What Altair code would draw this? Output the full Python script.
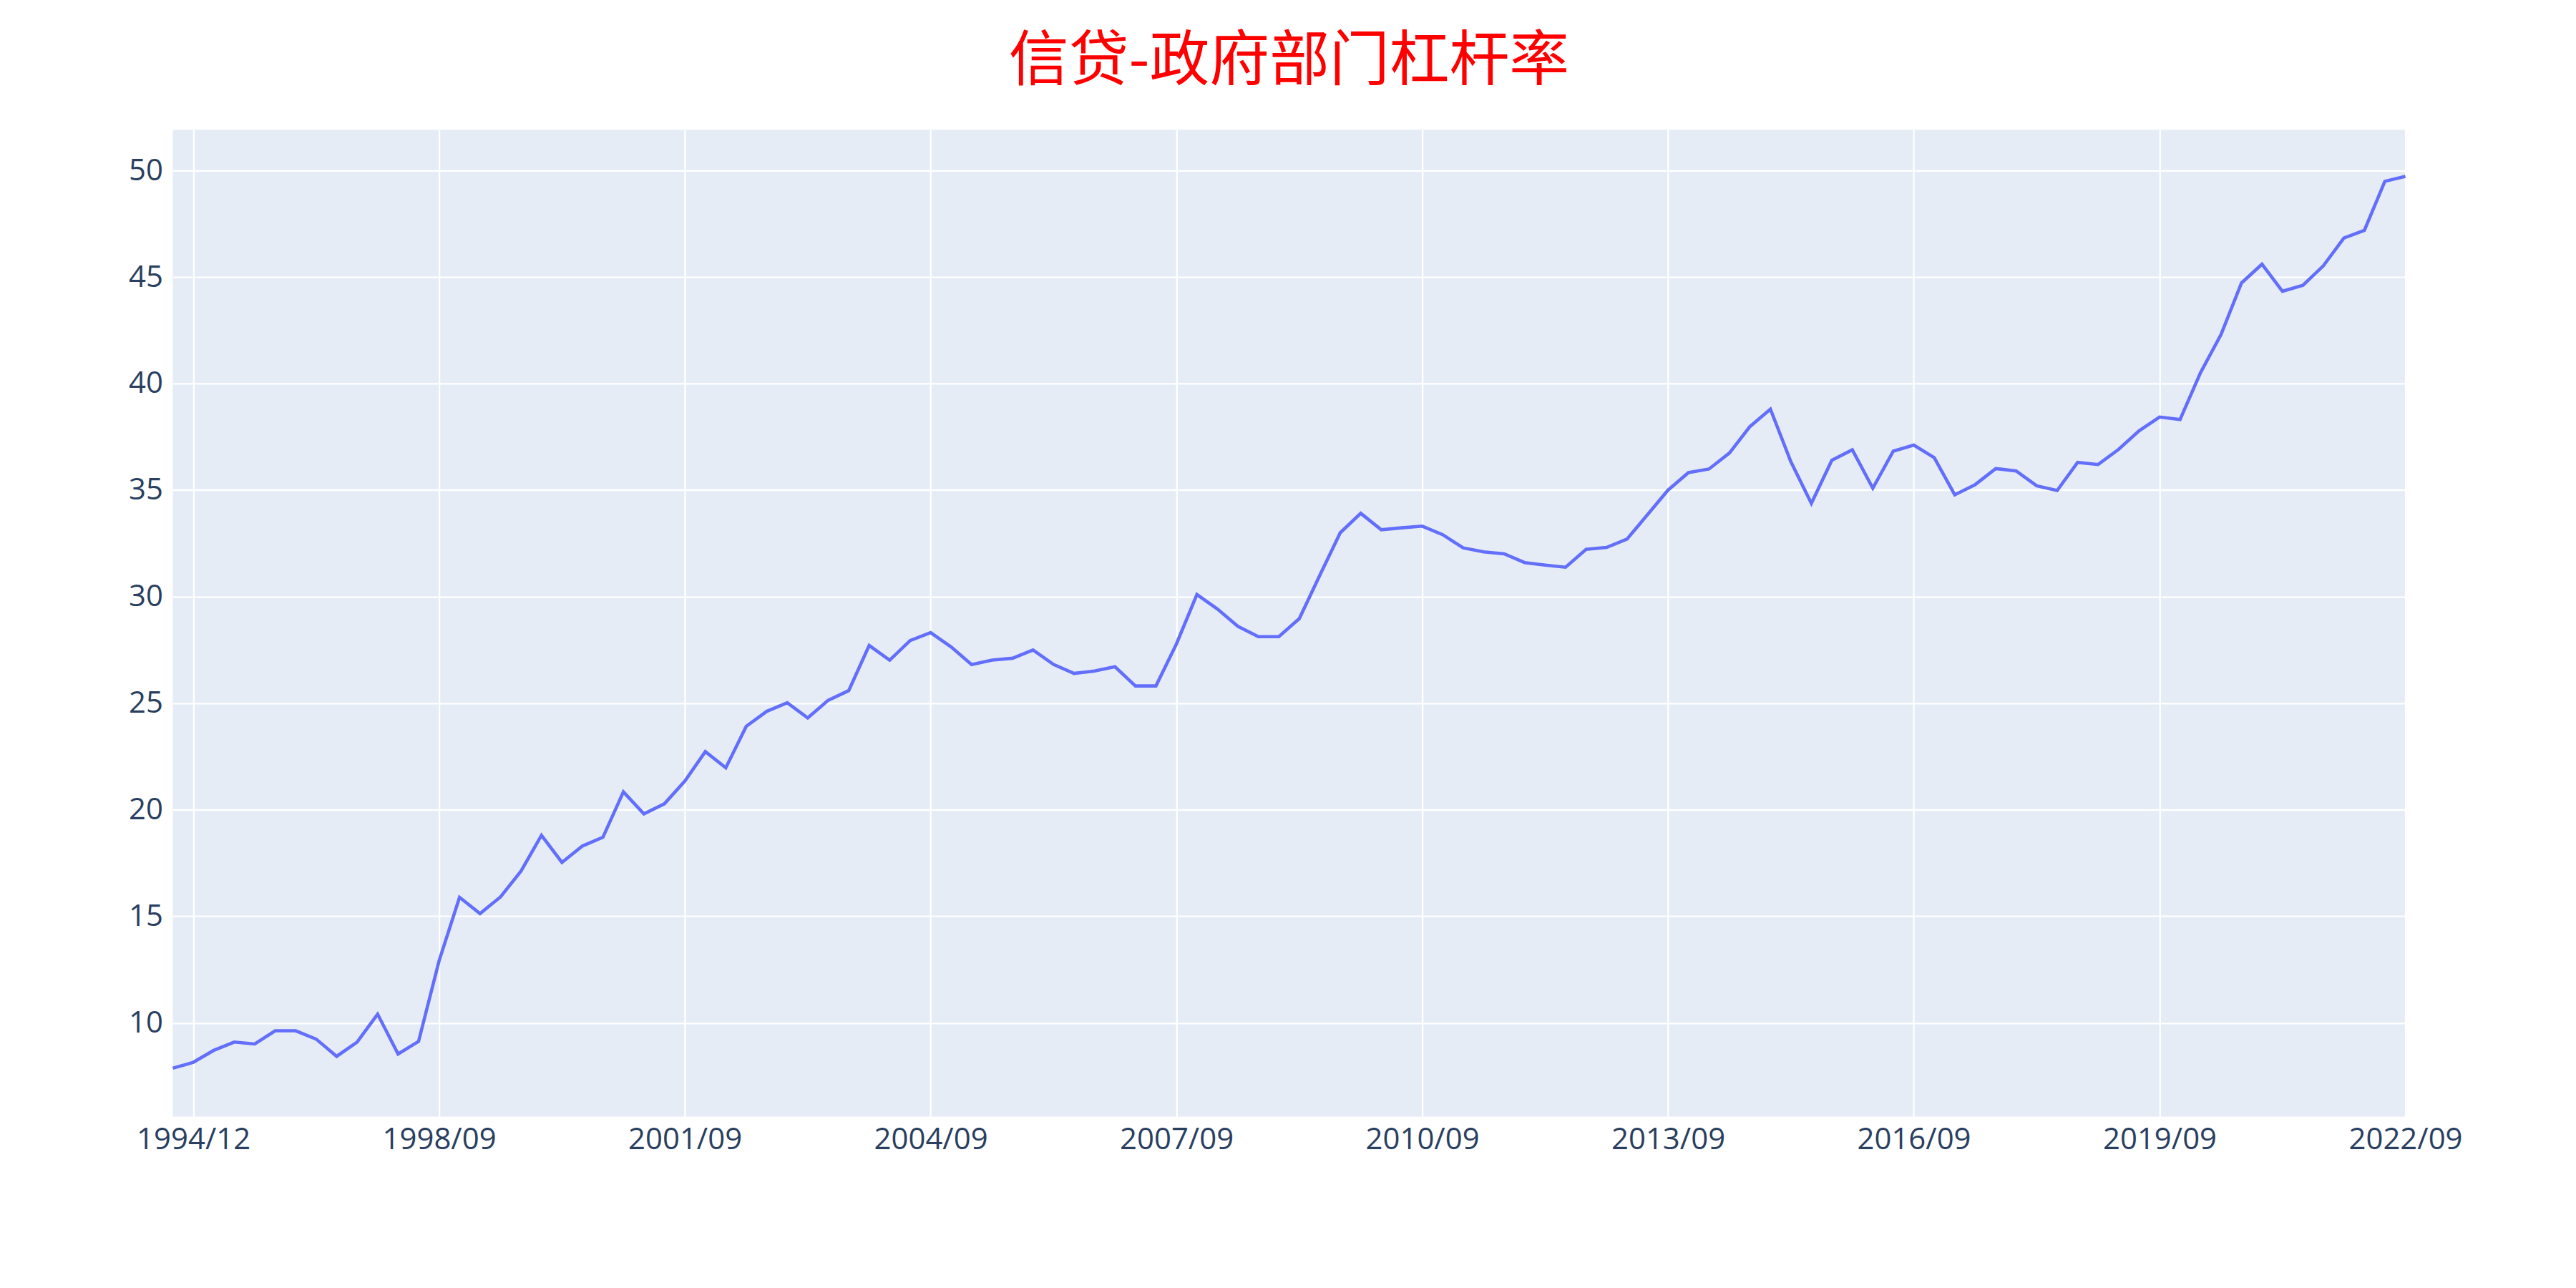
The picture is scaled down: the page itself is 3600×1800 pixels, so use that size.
import altair as alt
import pandas as pd

dates = ["1994/09", "1994/12",
         "1995/06", "1995/12", "1996/03", "1996/06", "1996/09", "1996/12",
         "1997/03", "1997/06", "1997/09", "1997/12", "1998/06"]
for y in range(1998, 2023):
    for m in ["03", "06", "09", "12"]:
        d = f"{y}/{m}"
        if (y == 1998 and m in ("03", "06")) or (y == 2022 and m == "12"):
            continue
        dates.append(d)

values = [7.87, 8.15, 8.71, 9.10, 9.01, 9.63, 9.63, 9.24, 8.43, 9.10, 10.41, 8.54, 9.13,
          12.91, 15.89, 15.13, 15.91, 17.12, 18.80, 17.53, 18.30, 18.71,
          20.84, 19.81, 20.28, 21.35, 22.73, 21.97, 23.92, 24.62, 25.02,
          24.31, 25.14, 25.59, 27.71, 27.02, 27.94, 28.31, 27.64, 26.81,
          27.02, 27.11, 27.50, 26.82, 26.40, 26.51, 26.71, 25.81, 25.81,
          27.78, 30.10, 29.42, 28.61, 28.12, 28.12, 28.97, 31.00, 33.00,
          33.91, 33.14, 33.23, 33.31, 32.91, 32.29, 32.10, 32.01, 31.60,
          31.48, 31.38, 32.22, 32.31, 32.70, 33.85, 35.00, 35.82, 35.99,
          36.74, 37.98, 38.80, 36.33, 34.38, 36.40, 36.89, 35.09, 36.83,
          37.11, 36.52, 34.78, 35.26, 36.01, 35.90, 35.20, 34.98, 36.30,
          36.20, 36.91, 37.78, 38.43, 38.31, 40.51, 42.30, 44.72, 45.60,
          44.33, 44.61, 45.53, 46.83, 47.19, 49.49, 49.72]

tick_labels = ["1994/12", "1998/09", "2001/09", "2004/09", "2007/09",
               "2010/09", "2013/09", "2016/09", "2019/09", "2022/09"]

n = min(len(dates), len(values))
df = pd.DataFrame({"date": dates[:n], "value": values[:n]})

chart = alt.Chart(df).mark_line(color="#636EFA", strokeWidth=4.6).encode(
    x=alt.X("date:O", sort=None, title=None,
            scale=alt.Scale(type="point", padding=0),
            axis=alt.Axis(values=tick_labels, labelAngle=0, labelFontSize=42,
                          labelColor="#2a3f5f", labelFont="Open Sans",
                          grid=True, gridColor="white", gridWidth=2.3,
                          domain=False, ticks=False, labelPadding=12)),
    y=alt.Y("value:Q", title=None,
            scale=alt.Scale(domain=[5.6, 51.9], nice=False, zero=False),
            axis=alt.Axis(values=[10, 15, 20, 25, 30, 35, 40, 45, 50],
                          labelFontSize=42, labelColor="#2a3f5f", labelFont="Open Sans",
                          gridColor="white", gridWidth=2.3,
                          domain=False, ticks=False, labelPadding=14)),
).properties(
    width=3127, height=1382,
    title=alt.TitleParams("信贷-政府部门杠杆率", color="red", fontSize=84,
                          font="Noto Sans CJK SC", fontWeight="normal",
                          anchor="middle", offset=52),
    autosize=alt.AutoSizeParams(type="none"),
    padding={"left": 234, "top": 172, "right": 231, "bottom": 230},
    background="white",
).configure_view(fill="#E5ECF6", stroke=None)

chart.save("out.html", embed_options={"renderer": "svg", "actions": False})
